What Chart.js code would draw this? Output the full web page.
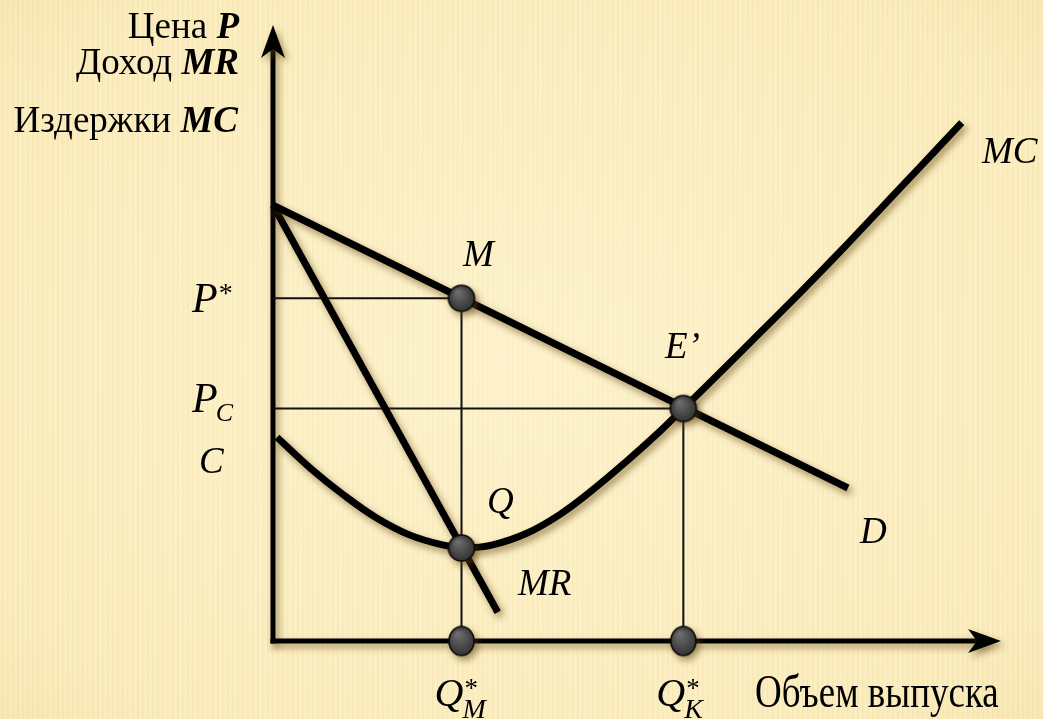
<!DOCTYPE html>
<html lang="ru">
<head>
<meta charset="utf-8">
<title>Монополия: цена, доход, издержки</title>
<script src="https://cdn.jsdelivr.net/npm/chart.js@4/dist/chart.umd.min.js"></script>
<style>
  html, body { margin: 0; padding: 0; width: 1043px; height: 719px; overflow: hidden; }
  body {
    background:
      radial-gradient(ellipse 60% 60% at 50% 50%, rgba(255,247,215,0.55), rgba(255,247,215,0) 100%),
      radial-gradient(ellipse 85% 85% at 50% 50%, rgba(0,0,0,0) 70%, rgba(225,190,110,0.25) 100%),
      repeating-linear-gradient(90deg, #FBEEC2 0px, #FBEEC2 2px, #F7E5B1 2px, #F7E5B1 3px, #FAEBBB 3px, #FAEBBB 5px);
  }
  #wrap { position: absolute; left: 0; top: 0; width: 1043px; height: 719px; }
</style>
</head>
<body>
<div id="wrap"><canvas id="c" width="1043" height="719"></canvas></div>
<script>
// ---- data ----
const demandQ = [0, 79.3];
const demandP = [71.2, 25.0];
const mrQ = [0, 31.0];
const mrP = [71.2, 4.7];
const mcQ = [0.55, 5.1, 9.7, 14.3, 18.9, 23.4, 26.5, 30.3, 35.0, 39.6, 44.1, 48.8, 53.4, 56.6, 61.7, 67.2, 72.7, 78.2, 83.7, 89.2, 95.0];
const mcP = [33.3, 28.3, 23.9, 20.1, 17.3, 15.7, 15.2, 15.7, 17.6, 20.7, 24.7, 29.4, 34.3, 38.0, 43.9, 50.4, 56.9, 63.6, 70.5, 77.4, 84.7];
const Qm = 26.0;      // Q*_M
const Qk = 56.6;      // Q*_K
const Pstar = 56.0;   // P*
const Pc = 38.0;      // P_C
const Qmin = 15.2;    // point Q (MR = MC)
const markerQ = [Qm, Qk, Qm];
const markerP = [Pstar, Pc, Qmin];
const axisMarkerQ = [Qm, Qk];

const pts = (xs, ys) => xs.map((x, i) => ({ x: x, y: ys[i] }));

// shaded dot sprites
function dotSprite(w, h) {
  const c = document.createElement('canvas');
  c.width = w + 4; c.height = h + 4;
  const g = c.getContext('2d');
  const cx = c.width / 2, cy = c.height / 2;
  const grad = g.createRadialGradient(cx - w * 0.15, cy - h * 0.25, 1, cx, cy, Math.max(w, h) / 2);
  grad.addColorStop(0, '#6e6e6e');
  grad.addColorStop(0.6, '#4a4a4a');
  grad.addColorStop(1, '#333333');
  g.beginPath();
  g.ellipse(cx, cy, w / 2, h / 2, 0, 0, Math.PI * 2);
  g.fillStyle = grad;
  g.fill();
  g.lineWidth = 1.6;
  g.strokeStyle = '#0a0a0a';
  g.stroke();
  return c;
}
const roundDot = dotSprite(26, 26);
const tallDot = dotSprite(25, 29);

const SHADOW = 'rgba(95,65,10,0.55)';

const shadowPlugin = {
  id: 'shadows',
  beforeDatasetDraw(chart, args) {
    const ds = chart.data.datasets[args.index];
    const ctx = chart.ctx;
    ctx.save();
    if (ds._shadow) {
      ctx.shadowColor = SHADOW;
      ctx.shadowBlur = 7;
      ctx.shadowOffsetX = 3;
      ctx.shadowOffsetY = 4;
    }
  },
  afterDatasetDraw(chart) {
    chart.ctx.restore();
  }
};

const axesPlugin = {
  id: 'arrowAxes',
  beforeDatasetsDraw(chart) {
    const ctx = chart.ctx;
    const xs = chart.scales.x, ys = chart.scales.y;
    const x0 = xs.getPixelForValue(0), y0 = ys.getPixelForValue(0);
    const yTip = chart.chartArea.top - 4;
    const xTip = chart.chartArea.right + 3;
    ctx.save();
    ctx.shadowColor = SHADOW;
    ctx.shadowBlur = 7;
    ctx.shadowOffsetX = 3;
    ctx.shadowOffsetY = 4;
    ctx.strokeStyle = '#000';
    ctx.fillStyle = '#000';
    ctx.lineWidth = 5;
    ctx.lineCap = 'butt';
    // vertical axis
    ctx.beginPath();
    ctx.moveTo(x0, y0 + 2.5);
    ctx.lineTo(x0, yTip + 20);
    ctx.stroke();
    ctx.beginPath();
    ctx.moveTo(x0, yTip);
    ctx.lineTo(x0 + 12, yTip + 33);
    ctx.lineTo(x0, yTip + 24);
    ctx.lineTo(x0 - 12, yTip + 33);
    ctx.closePath();
    ctx.fill();
    // horizontal axis
    ctx.beginPath();
    ctx.moveTo(x0 - 2.5, y0);
    ctx.lineTo(xTip - 20, y0);
    ctx.stroke();
    ctx.beginPath();
    ctx.moveTo(xTip, y0);
    ctx.lineTo(xTip - 33, y0 - 12);
    ctx.lineTo(xTip - 24, y0);
    ctx.lineTo(xTip - 33, y0 + 12);
    ctx.closePath();
    ctx.fill();
    ctx.restore();
  }
};

function runs(ctx, parts, x, y, align, sy) {
  // parts: [[text, font, dy, extraAdvance], ...]
  let total = 0;
  parts.forEach(p => { ctx.font = p[1]; total += ctx.measureText(p[0]).width; });
  let cx = align === 'right' ? x - total : x;
  parts.forEach(p => {
    ctx.font = p[1];
    ctx.save();
    ctx.translate(cx, y + (p[2] || 0));
    if (sy) ctx.scale(1, sy);
    ctx.fillText(p[0], 0, 0);
    ctx.restore();
    cx += ctx.measureText(p[0]).width + (p[3] || 0);
  });
}

const labelsPlugin = {
  id: 'labels',
  afterDraw(chart) {
    const ctx = chart.ctx;
    const ys = chart.scales.y;
    const F = '"Liberation Serif", "Times New Roman", serif';
    ctx.save();
    ctx.fillStyle = '#000';
    ctx.textBaseline = 'alphabetic';
    ctx.textAlign = 'left';
    // axis titles
    runs(ctx, [['Цена ', '37px ' + F], ['P', 'italic bold 37px ' + F]], 239, 38, 'right');
    runs(ctx, [['Доход ', '37px ' + F], ['MR', 'italic bold 37px ' + F]], 239, 74, 'right');
    runs(ctx, [['Издержки ', '37px ' + F], ['MC', 'italic bold 37px ' + F]], 238, 132, 'right');
    runs(ctx, [['Объем выпуска', '37px ' + F]], 755, 707, 'left', 1.25);
    // price labels
    const yP = ys.getPixelForValue(Pstar);
    const yPc = ys.getPixelForValue(Pc);
    runs(ctx, [['P', 'italic 42px ' + F, 0, 1], ['*', '28px ' + F, -10]], 192, yP + 14, 'left');
    runs(ctx, [['P', 'italic 42px ' + F, 0, -2], ['C', 'italic 26px ' + F, 9]], 192, yPc + 4, 'left');
    runs(ctx, [['C', 'italic 37px ' + F]], 199, 473, 'left');
    // curve / point labels
    runs(ctx, [['M', 'italic 37px ' + F]], 463, 266, 'left');
    runs(ctx, [['E\u2019', 'italic 37px ' + F]], 665, 358, 'left');
    runs(ctx, [['Q', 'italic 37px ' + F]], 487, 513, 'left');
    runs(ctx, [['MR', 'italic 37px ' + F]], 518, 595, 'left');
    runs(ctx, [['D', 'italic 37px ' + F]], 860, 543, 'left');
    runs(ctx, [['MC', 'italic 37px ' + F]], 982, 163, 'left');
    // quantity labels
    const xs = chart.scales.x;
    [[Qm, 'M'], [Qk, 'K']].forEach(([q, s]) => {
      const px = xs.getPixelForValue(q);
      ctx.font = 'italic 40px ' + F;
      const qx = px - 27;
      ctx.fillText('Q', qx, 706);
      ctx.font = '27px ' + F;
      ctx.fillText('*', qx + 30, 697);
      ctx.font = 'italic 28px ' + F;
      ctx.fillText(s, qx + 28, 718);
    });
    ctx.restore();
  }
};

const thin = { borderColor: '#111', borderWidth: 2, pointRadius: 0, showLine: true, clip: false, order: 3, _shadow: false };
const thick = { borderColor: '#000', borderWidth: 7, pointRadius: 0, showLine: true, clip: false, order: 2, _shadow: true, borderCapStyle: 'butt' };

new Chart(document.getElementById('c'), {
  type: 'scatter',
  data: {
    datasets: [
      Object.assign({ label: 'P* guide', data: pts([0, Qm], [Pstar, Pstar]) }, thin),
      Object.assign({ label: 'Pc guide', data: pts([0, Qk], [Pc, Pc]) }, thin),
      Object.assign({ label: 'Q*M guide', data: pts([Qm, Qm], [Pstar, 0]) }, thin),
      Object.assign({ label: 'Q*K guide', data: pts([Qk, Qk], [Pc, 0]) }, thin),
      Object.assign({ label: 'D', data: pts(demandQ, demandP) }, thick),
      Object.assign({ label: 'MR', data: pts(mrQ, mrP) }, thick),
      Object.assign({ label: 'MC', data: pts(mcQ, mcP), tension: 0.4 }, thick),
      { label: 'points', data: pts(markerQ, markerP), pointStyle: roundDot, pointRadius: 13, showLine: false, clip: false, order: 0, _shadow: true },
      { label: 'axis points', data: pts(axisMarkerQ, axisMarkerQ.map(() => 0)), pointStyle: tallDot, pointRadius: 14, showLine: false, clip: false, order: 1, _shadow: true }
    ]
  },
  options: {
    responsive: false,
    animation: false,
    events: [],
    layout: { padding: { left: 273, right: 45, top: 29, bottom: 78 } },
    scales: {
      x: { type: 'linear', min: 0, max: 100, display: false },
      y: { type: 'linear', min: 0, max: 100, display: false }
    },
    plugins: { legend: { display: false }, tooltip: { enabled: false } }
  },
  plugins: [shadowPlugin, axesPlugin, labelsPlugin]
});
</script>
</body>
</html>
